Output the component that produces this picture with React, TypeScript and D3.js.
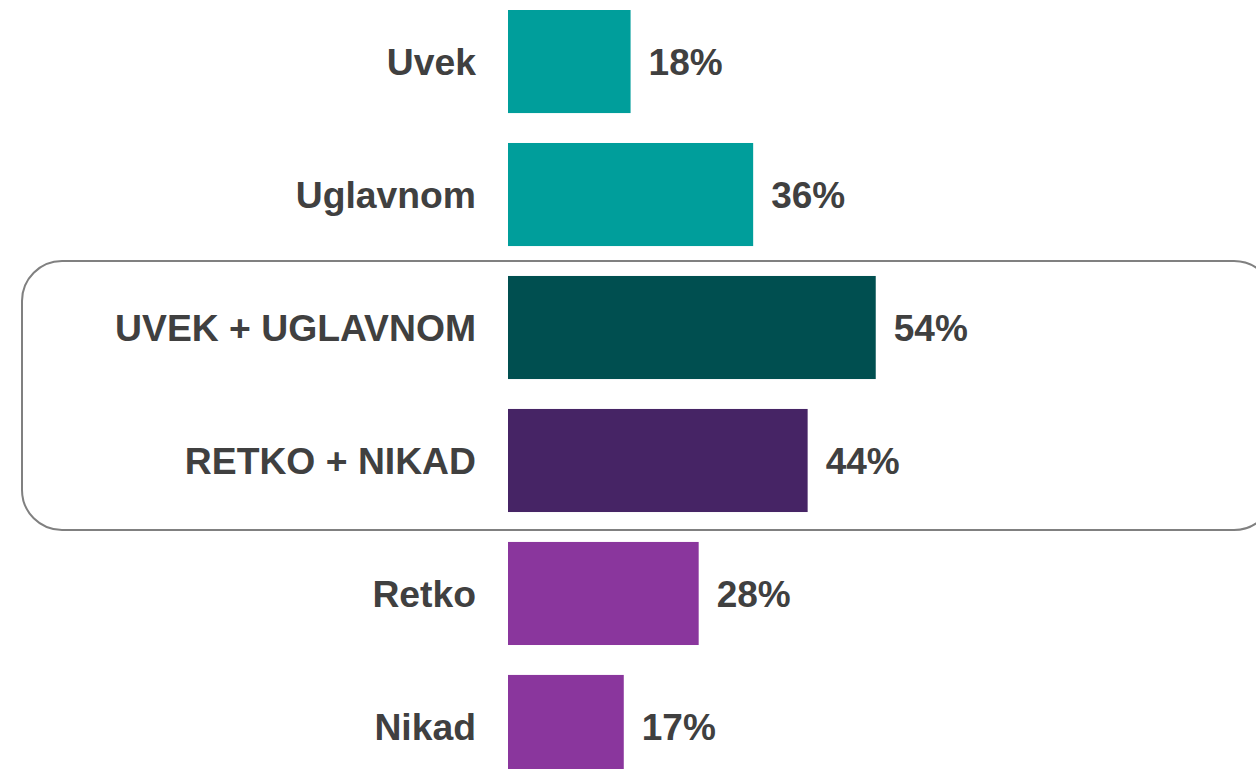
import * as d3 from "d3";
import React, { useMemo } from "react";

const WIDTH = 1256;
const HEIGHT = 769;

const categories = ["Uvek", "Uglavnom", "UVEK + UGLAVNOM", "RETKO + NIKAD", "Retko", "Nikad"];
const values = [18, 36, 54, 44, 28, 17];
const barColors = ["#009e9b", "#009e9b", "#004f50", "#462465", "#8a369d", "#8a369d"];
// the two summary rows get a rounded box around them
const highlighted = ["UVEK + UGLAVNOM", "RETKO + NIKAD"];

const BAR_LEFT = 508;
const FONT = "'Liberation Sans', Arial, Helvetica, sans-serif";
const TEXT_COLOR = "#404040";

export default function App() {
    const yScale = useMemo(
        () => d3.scaleBand<string>().domain(categories).range([10, 778]).paddingInner(0.225).paddingOuter(0),
        []
    );
    const xScale = useMemo(() => d3.scaleLinear().domain([0, 100]).range([0, 681]), []);

    const gap = yScale.step() - yScale.bandwidth();
    const boxTop = (yScale(highlighted[0]) ?? 0) - gap / 2;
    const boxBottom = (yScale(highlighted[highlighted.length - 1]) ?? 0) + yScale.bandwidth() + gap / 2 + 3;

    return (
        <svg
            width={WIDTH}
            height={HEIGHT}
            style={{ position: "absolute", left: 0, top: 0, background: "#fff" }}
        >
            <rect
                x={22}
                y={boxTop}
                width={1252}
                height={boxBottom - boxTop}
                rx={40}
                ry={40}
                fill="none"
                stroke="#808080"
                strokeWidth={2}
            />
            {categories.map((cat, i) => {
                const y = yScale(cat) ?? 0;
                const cy = y + yScale.bandwidth() / 2;
                const w = xScale(values[i]);
                return (
                    <g key={cat}>
                        <rect x={BAR_LEFT} y={y} width={w} height={yScale.bandwidth()} fill={barColors[i]} />
                        <text
                            x={BAR_LEFT - 32}
                            y={cy}
                            dy="0.36em"
                            textAnchor="end"
                            fontFamily={FONT}
                            fontWeight="bold"
                            fontSize={37.3}
                            fill={TEXT_COLOR}
                        >
                            {cat}
                        </text>
                        <text
                            x={BAR_LEFT + w + 18}
                            y={cy}
                            dy="0.36em"
                            fontFamily={FONT}
                            fontWeight="bold"
                            fontSize={37}
                            fill={TEXT_COLOR}
                        >
                            {values[i]}%
                        </text>
                    </g>
                );
            })}
        </svg>
    );
}
